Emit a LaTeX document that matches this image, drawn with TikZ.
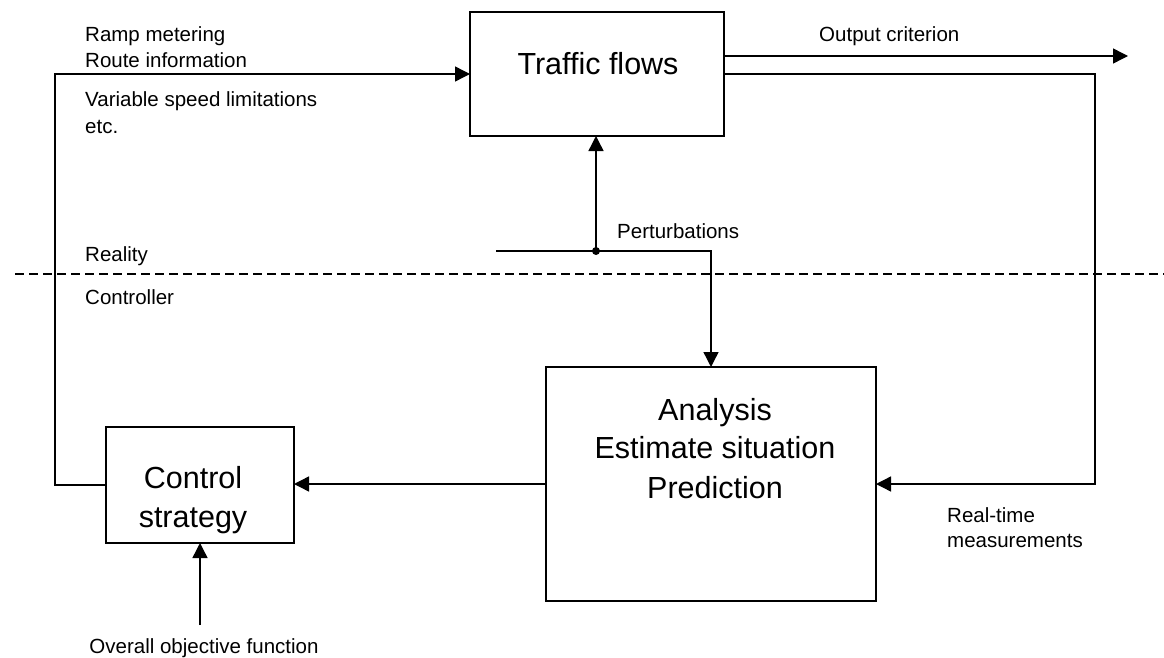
\documentclass[tikz,border=0pt]{standalone}
\usepackage{fontspec}
\setmainfont{Liberation Sans}
\usetikzlibrary{arrows.meta}
\begin{document}
\begin{tikzpicture}[x=1pt,y=-1pt,
  blk/.style={draw, line width=1.4pt, inner sep=0pt, outer sep=0pt},
  big/.style={font=\fontsize{30.5}{39}\selectfont, anchor=base, inner sep=0pt},
  small/.style={font=\fontsize{20.5}{26}\selectfont, anchor=base west, inner sep=0pt},
  conn/.style={line width=1.4pt},
  arr/.style={conn, -{Triangle[length=15pt,width=15pt]}},
  sep/.style={line width=1.4pt, dash pattern=on 9pt off 5pt}]
\useasboundingbox (0,0) rectangle (1164,658);

% blocks
\node[blk, minimum width=254, minimum height=124] (tf) at (597,74) {};
\node[big] (tft) at (598,75) {Traffic flows};
\node[blk, minimum width=188, minimum height=116] (cs) at (200,485) {};
\node[big] (cs1) at (193,488) {Control};
\node[big] (cs2) at (193,527) {strategy};
\node[blk, minimum width=330, minimum height=234] (an) at (711,484) {};
\node[big] (an1) at (715,420) {Analysis};
\node[big] (an2) at (715,458) {Estimate situation};
\node[big] (an3) at (715,498) {Prediction};

% labels
\node[small] (l1) at (85,42) {Ramp metering};
\node[small] (l2) at (85,68) {Route information};
\node[small] (l3) at (85,107) {Variable speed limitations};
\node[small] (l4) at (85,133) {etc.};
\node[small] (real) at (85,261) {Reality};
\node[small] (ctrlr) at (85,304) {Controller};
\node[small] (oc) at (819,42) {Output criterion};
\node[small] (pert) at (617,238) {Perturbations};
\node[small] (rt1) at (947,522) {Real-time};
\node[small] (rt2) at (947,547) {measurements};
\node[small, anchor=base] (obj) at (204,653) {Overall objective function};

% bend points and free ends
\coordinate (lb) at (55,485);
\coordinate (lt) at (55,74);
\coordinate (oe) at (1128,56);
\coordinate (rt) at (1095,74);
\coordinate (rb) at (1095,484);
\coordinate (ps) at (496,251);
\coordinate (pd) at (596,251);
\coordinate (pc) at (711,251);
\coordinate (ob) at (200,625);
\coordinate (dl) at (15,274);
\coordinate (dr) at (1164,274);

% connectors
\draw[arr] (cs.west) -- (lb) -- (lt) -- (tf.west);
\draw[arr] (tf.east |- oe) -- (oe);
\draw[arr] (tf.east) -- (rt) -- (rb) -- (an.east);
\draw[arr] (ps) -- (pc) -- (an.north);
\fill (pd) circle[radius=4pt];
\draw[arr] (pd) -- (pd |- tf.south);
\draw[arr] (an.west) -- (an.west -| cs.east);
\draw[arr] (ob) -- (cs.south);

% reality / controller boundary
\draw[sep] (dl) -- (dr);
\end{tikzpicture}
\end{document}
